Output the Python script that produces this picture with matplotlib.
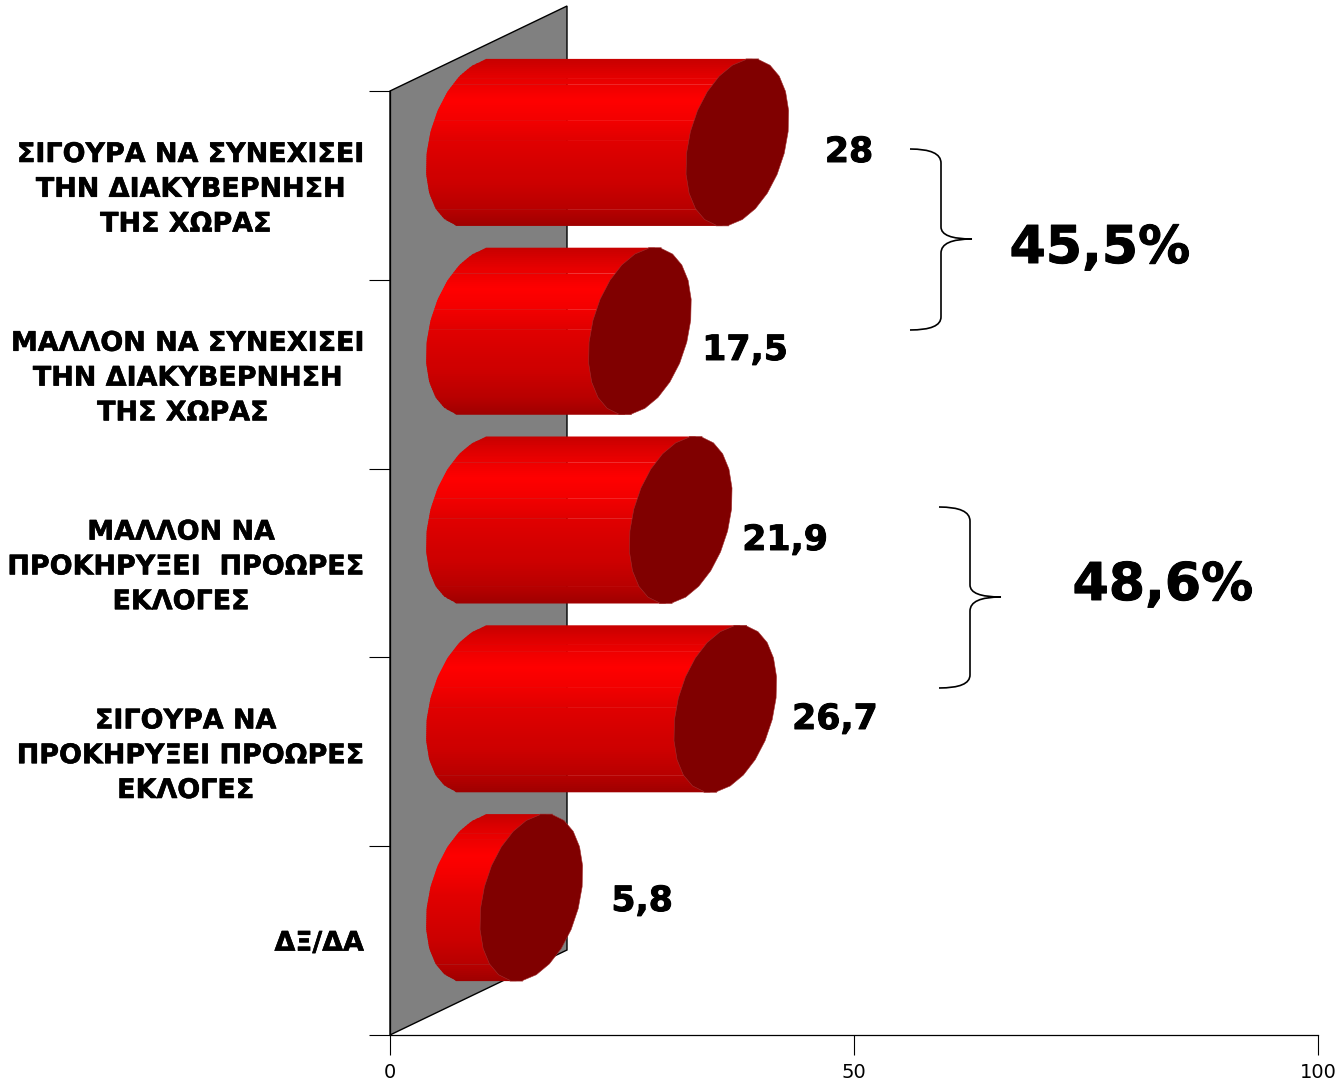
import numpy as np
import matplotlib
matplotlib.use('Agg')
import matplotlib.pyplot as plt
import matplotlib.patheffects as pe
from matplotlib.patches import Polygon, PathPatch
from matplotlib.path import Path
from matplotlib.collections import PolyCollection
from matplotlib.transforms import ScaledTranslation

categories = ['ΣΙΓΟΥΡΑ ΝΑ ΣΥΝΕΧΙΣΕΙ\nΤΗΝ ΔΙΑΚΥΒΕΡΝΗΣΗ\nΤΗΣ ΧΩΡΑΣ ',
              'ΜΑΛΛΟΝ ΝΑ ΣΥΝΕΧΙΣΕΙ\nΤΗΝ ΔΙΑΚΥΒΕΡΝΗΣΗ\nΤΗΣ ΧΩΡΑΣ ',
              'ΜΑΛΛΟΝ ΝΑ \nΠΡΟΚΗΡΥΞΕΙ  ΠΡΟΩΡΕΣ\nΕΚΛΟΓΕΣ ',
              'ΣΙΓΟΥΡΑ ΝΑ \nΠΡΟΚΗΡΥΞΕΙ ΠΡΟΩΡΕΣ\nΕΚΛΟΓΕΣ ',
              'ΔΞ/ΔΑ']
values = [28, 17.5, 21.9, 26.7, 5.8]
value_labels = ['28', '17,5', '21,9', '26,7', '5,8']
group_labels = ['45,5%', '48,6%']
x_ticks = [0, 50, 100]

W, H = 1338, 1082
PX_X = 928 / 100   # pixels per value unit
PX_Y = 944 / 5     # pixels per category

fig = plt.figure(figsize=(W / 100, H / 100), dpi=100, facecolor='white')
ax = fig.add_axes([390 / W, (H - 1035) / H, 928 / W, 944 / H], facecolor='none')
ax.set_xlim(0, 100)
ax.set_ylim(5, 0)
heavy = [pe.withStroke(linewidth=0.7, foreground='black')]

# back wall of the 3d chart
wall_dx = 177 / PX_X
wall_dy = 85 / PX_Y
ax.add_patch(Polygon([(0, 0), (wall_dx, -wall_dy), (wall_dx, 5 - wall_dy), (0, 5)],
                     closed=True, fc='#808080', ec='black', lw=1.0, clip_on=False, zorder=1))

# axes
for s in ['top', 'right']:
    ax.spines[s].set_visible(False)
for s in ['left', 'bottom']:
    ax.spines[s].set_linewidth(0.9)
    ax.spines[s].set_zorder(2)
ax.set_xticks(x_ticks)
ax.tick_params(axis='x', length=14.5, width=0.8, labelsize=14, pad=6)
ax.set_yticks(range(6))
ax.set_yticklabels([])
ax.tick_params(axis='y', which='major', length=15, width=0.8)
ax.set_yticks(np.arange(5) + 0.5, minor=True)
labs = ax.set_yticklabels(categories, minor=True, fontsize=19.4, fontweight='bold',
                          multialignment='center', linespacing=1.44)
ax.tick_params(axis='y', which='minor', length=0, pad=19)
for lab in labs:
    lab.set_path_effects([pe.withStroke(linewidth=0.4, foreground='black')])
for lab in labs[:4]:
    lab.set_transform(lab.get_transform() + ScaledTranslation(0, 3 / 100, fig.dpi_scale_trans))

# cylinders
off_x = 87.5 / PX_X
off_y = 43 / PX_Y
a = 49.3 / PX_X
k = 15 / PX_X
b = 83.5 / PX_Y
step = np.pi / 12
t = np.arange(-np.pi / 2 + step / 2, np.pi / 2, step)
chain_s = np.concatenate([[-1], np.sin(t), [1]])
chain_w = np.concatenate([[a * np.cos(t[0])], a * np.cos(t), [a * np.cos(t[-1])]])
seams = [-.95, -.90, -.77, -.69, -.485, -.26, -.02, .11, .52, .62, .80]
stops_s = [-1, -.77, -.5, -.26, -.02, .5, .8, 1]
stops_r = [.78, .9, 1.0, .95, .88, .80, .72, .62]
gap = 0.22 / 83.5
grid = np.unique(np.concatenate([np.linspace(-1, 1, 84), seams]))


def left_x(cx, s):
    return cx - np.interp(s, chain_s, chain_w) - k * s


for i, v in enumerate(values):
    cx0 = off_x
    cx1 = off_x + v
    cy = i + 0.5 - off_y
    polys = []
    cols = []
    for s0, s1 in zip(grid[:-1], grid[1:]):
        top = s1 + 1.5 / 83.5
        if any(abs(s1 - q) < 1e-9 for q in seams):
            top = s1 - gap
        top = min(top, 1)
        polys.append([(left_x(cx0, s0), cy + b * s0), (cx1 - k * s0, cy + b * s0),
                      (cx1 - k * top, cy + b * top), (left_x(cx0, top), cy + b * top)])
        cols.append((np.interp((s0 + s1) / 2, stops_s, stops_r), 0, 0))
    ax.add_collection(PolyCollection(polys, facecolors=cols, edgecolors='none',
                                     linewidths=0, zorder=3, clip_on=False))
    ss = chain_s
    right = np.column_stack([cx1 + chain_w - k * ss, cy + b * ss])
    left = np.column_stack([cx1 - chain_w - k * ss, cy + b * ss])[::-1]
    ax.add_patch(Polygon(np.vstack([right, left]), closed=True, fc='#800000',
                         ec='#a03030', lw=0.4, zorder=4, clip_on=False))

# overlay in pixel coords for annotations
over = fig.add_axes([0, 0, 1, 1], facecolor='none')
over.set_xlim(0, W)
over.set_ylim(H, 0)
over.axis('off')

label_pos = [(849, 152), (745, 350), (785, 540), (835, 719), (642, 901)]
for (lx, ly), txt in zip(label_pos, value_labels):
    over.text(lx, ly, txt, fontsize=25, fontweight='bold', ha='center', va='center',
              path_effects=heavy)


def brace(x0, y0):
    codes = [Path.MOVETO, Path.CURVE3, Path.CURVE3, Path.LINETO, Path.CURVE3, Path.CURVE3,
             Path.CURVE3, Path.CURVE3, Path.LINETO, Path.CURVE3, Path.CURVE3]
    pts = [(0, 0), (31, 0), (31, 14), (31, 78), (31, 90), (62, 90),
           (31, 90), (31, 104), (31, 168), (31, 181), (0, 181)]
    over.add_patch(PathPatch(Path([(x0 + p, y0 + q) for p, q in pts], codes),
                             fc='none', ec='black', lw=1.2))


brace(910, 149)
brace(939, 507)
over.text(1100, 249, group_labels[0], fontsize=37.5, fontweight='bold', ha='center', va='center',
          path_effects=heavy)
over.text(1163, 586, group_labels[1], fontsize=37.5, fontweight='bold', ha='center', va='center',
          path_effects=heavy)

fig.savefig('out.png', dpi=100, facecolor='white')
